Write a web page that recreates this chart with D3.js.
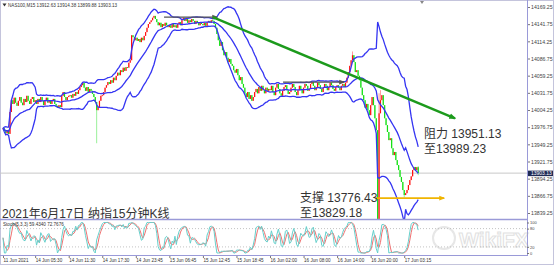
<!DOCTYPE html>
<html>
<head>
<meta charset="utf-8">
<script src="https://cdn.jsdelivr.net/npm/d3@7"></script>
<style>
body { margin: 0; background: #fff; }
svg { display: block; font-family: "Liberation Sans", Arial, sans-serif; }
</style>
</head>
<body>
<svg id="chart" width="554" height="265"></svg>
<script type="text/javascript">

// NAS100 M15 closes, one array per time-axis label (24 bars each)
var closes_11Jun = [13975, 13971, 13967, 13972, 13966, 14001, 14020, 14014, 14024, 14016, 14011, 14019, 14025, 14016, 14012, 14022, 14017, 14027, 14019, 14014, 14022, 14025, 14017];
var closes_14Jun_0530 = [14020, 14014, 14022, 14017, 14025, 14019, 14012, 14020, 14024, 14016, 14020, 14014, 14019, 14022, 14014, 14011, 14008, 14012, 14009, 14027, 14033, 14025, 14020, 14025];
var closes_14Jun_1130 = [14027, 14028, 14024, 14030, 14027, 14033, 14030, 14036, 14041, 14044, 14048, 14040, 14035, 14041, 14033, 14038, 14035, 14030, 14025, 14017, 14004, 14009, 14019, 14027];
var closes_14Jun_1730 = [14028, 14033, 14040, 14044, 14049, 14046, 14052, 14048, 14056, 14052, 14059, 14064, 14060, 14068, 14065, 14072, 14067, 14073, 14072, 14080, 14084, 14124, 14121, 14116];
var closes_14Jun_2345 = [14120, 14115, 14118, 14113, 14120, 14116, 14123, 14129, 14136, 14142, 14145, 14148, 14152, 14155, 14150, 14145, 14140, 14144, 14137, 14142, 14139, 14144, 14140, 14137];
var closes_15Jun_0645 = [14140, 14136, 14142, 14137, 14140, 14136, 14142, 14145, 14140, 14148, 14152, 14147, 14150, 14144, 14148, 14145, 14150, 14147, 14142, 14147, 14144, 14140, 14145, 14142];
var closes_15Jun_1245 = [14140, 14144, 14139, 14145, 14147, 14144, 14148, 14147, 14142, 14136, 14126, 14116, 14107, 14113, 14100, 14092, 14097, 14088, 14081, 14086, 14078, 14075, 14068, 14064];
var closes_15Jun_1845 = [14070, 14060, 14052, 14057, 14046, 14040, 14031, 14025, 14033, 14022, 14028, 14019, 14025, 14033, 14038, 14031, 14041, 14035, 14043, 14036, 14031, 14040, 14035, 14038];
var closes_16Jun_0200 = [14036, 14043, 14033, 14028, 14040, 14046, 14038, 14031, 14027, 14035, 14041, 14044, 14036, 14030, 14033, 14040, 14046, 14041, 14033, 14028, 14036, 14043, 14038, 14031];
var closes_16Jun_0800 = [14040, 14046, 14043, 14035, 14038, 14046, 14049, 14043, 14036, 14041, 14048, 14044, 14038, 14033, 14040, 14046, 14043, 14036, 14041, 14048, 14044, 14038, 14035, 14041];
var closes_16Jun_1400 = [14044, 14040, 14036, 14043, 14046, 14041, 14048, 14056, 14065, 14075, 14084, 14092, 14081, 14065, 14068, 14059, 14052, 14040, 14028, 14020, 14008, 14014, 14004, 13996];
var closes_16Jun_2000 = [14012, 14025, 14012, 13991, 13972, 13790, 13999, 14020, 14028, 14012, 13991, 13980, 13969, 13956, 13959, 13943, 13932, 13937, 13924, 13916, 13908, 13897, 13889, 13876];
var closes_17Jun_0315 = [13868, 13871, 13876, 13884, 13892, 13898, 13908, 13913, 13908, 13912.63, 13903.13];

// wicks that reach beyond the bodies: [bar, price]
var highWicks = [[250, 14098], [269, 14031], [270, 14036], [297, 13914.38]];
var lowWicks = [[67, 13951], [269, 13776.43], [287, 13864], [297, 13899.88]];

var timeLabels = ["11 Jun 2021", "14 Jun 05:30", "14 Jun 11:30", "14 Jun 17:30", "14 Jun 23:45", "15 Jun 06:45",
    "15 Jun 12:45", "15 Jun 18:45", "16 Jun 02:00", "16 Jun 08:00", "16 Jun 14:00", "16 Jun 20:00", "17 Jun 03:15"];
var timeLabelBars = [0, 23, 47, 71, 95, 119, 143, 167, 191, 215, 239, 263, 287];

var priceTicks = [14169.25, 14141.75, 14114.25, 14086.75, 14059.25, 14031.75, 14004.25, 13976.75, 13949.25, 13921.75, 13894.25, 13866.75, 13839.25];
var stochTicks = [0, 20, 80, 100];
var bidPrice = 13903.13;

// drawn objects: [bar, price] end points
var trendLine = [[150, 14153], [323.3, 13991]];
var topArrow = [[115.2, 14153], [153.1, 14153]];
var midArrow = [[200.3, 14049], [243.9, 14049]];
var supportArrow = [[266.8, 13863], [315.5, 13863]];

var headerText = "NAS100,M15  13912.63 13914.38 13899.88 13903.13";
var stochText = "Stoch(5,3,3) 59.4340 72.7676";
var titleText = "2021年6月17日 纳指15分钟K线";
var resistText = ["阻力 13951.13", "至13989.23"];
var supportText = ["支撑 13776.43", "至13829.18"];

var closes = [].concat(closes_11Jun, closes_14Jun_0530, closes_14Jun_1130, closes_14Jun_1730, closes_14Jun_2345,
    closes_15Jun_0645, closes_15Jun_1245, closes_15Jun_1845, closes_16Jun_0200, closes_16Jun_0800,
    closes_16Jun_1400, closes_16Jun_2000, closes_17Jun_0315);
var n = closes.length;
var bars = d3.range(n);

var opens = closes.map(function(c, i) { return i ? closes[i - 1] : c; });
var highs = closes.map(function(c, i) { return Math.max(c, opens[i]); });
var lows = closes.map(function(c, i) { return Math.min(c, opens[i]); });
highWicks.forEach(function(w) { highs[w[0]] = w[1]; });
lowWicks.forEach(function(w) { lows[w[0]] = w[1]; });

// bollinger bands 20, 2
var bands = bars.map(function(i) {
    var win = closes.slice(Math.max(0, i - 19), i + 1);
    var m = d3.mean(win);
    var sd = Math.sqrt(d3.mean(win, function(v) { return (v - m) * (v - m); }));
    return {i: i, mid: m, up: m + 2 * sd, lo: m - 2 * sd};
});

// stochastic 5,3,3
var num = bars.map(function(i) {
    var lo = d3.min(lows.slice(Math.max(0, i - 4), i + 1));
    return closes[i] - lo;
});
var den = bars.map(function(i) {
    var lo = d3.min(lows.slice(Math.max(0, i - 4), i + 1));
    var hi = d3.max(highs.slice(Math.max(0, i - 4), i + 1));
    return hi - lo;
});
var kLine = bars.map(function(i) {
    var a = d3.sum(num.slice(Math.max(0, i - 2), i + 1));
    var b = d3.sum(den.slice(Math.max(0, i - 2), i + 1));
    return b ? a / b * 100 : 50;
});
var dLine = bars.map(function(i) { return d3.mean(kLine.slice(Math.max(0, i - 2), i + 1)); });

var svg = d3.select("#chart");
var axisX = 527;

var x = d3.scaleLinear().domain([0, n - 1]).range([3, 3 + (n - 1) * 1.398]);
var y = d3.scaleLinear().domain([13839.25, 14169.25]).range([213, 7]);
var ys = d3.scaleLinear().domain([0, 100]).range([253, 222.5]);

var defs = svg.append("defs");
defs.append("clipPath").attr("id", "clipMain").append("rect")
    .attr("x", 0).attr("y", 1).attr("width", axisX).attr("height", 218);
defs.append("clipPath").attr("id", "clipSub").append("rect")
    .attr("x", 0).attr("y", 221).attr("width", axisX).attr("height", 34);
function marker(id, color, size) {
    defs.append("marker").attr("id", id).attr("viewBox", "0 0 10 10")
        .attr("refX", 8).attr("refY", 5).attr("markerWidth", size).attr("markerHeight", size)
        .attr("markerUnits", "userSpaceOnUse").attr("orient", "auto")
        .append("path").attr("d", "M0,1 L10,5 L0,9 Z").attr("fill", color);
}
marker("arrGray", "#555", 6);
marker("arrOrange", "#f0b400", 6);
marker("arrGreen", "#1c9a1c", 7);

svg.append("rect").attr("x", 0.5).attr("y", 0.5).attr("width", 553).attr("height", 264)
    .attr("fill", "#fff").attr("stroke", "#c4c4dc");

// bid line
svg.append("line").attr("x1", 0).attr("x2", axisX).attr("y1", y(bidPrice)).attr("y2", y(bidPrice))
    .attr("stroke", "#c8c8c8").attr("stroke-width", 1);

var main = svg.append("g").attr("clip-path", "url(#clipMain)");

main.selectAll("line.wick").data(bars).join("line").attr("class", "wick")
    .attr("x1", function(i) { return x(i); }).attr("x2", function(i) { return x(i); })
    .attr("y1", function(i) { return y(highs[i]); }).attr("y2", function(i) { return y(lows[i]); })
    .attr("stroke", function(i) { return closes[i] >= opens[i] ? "#ff9a9a" : "#9af09a"; })
    .attr("stroke-width", 1);

main.selectAll("rect.body").data(bars).join("rect").attr("class", "body")
    .attr("x", function(i) { return x(i) - 0.6; }).attr("width", 1.2)
    .attr("y", function(i) { return y(Math.max(opens[i], closes[i])); })
    .attr("height", function(i) { return Math.max(1, Math.abs(y(opens[i]) - y(closes[i]))); })
    .attr("fill", function(i) { return closes[i] >= opens[i] ? "#ff1010" : "#10e010"; });

["up", "mid", "lo"].forEach(function(k) {
    main.append("path").datum(bands)
        .attr("fill", "none").attr("stroke", "#3535f2").attr("stroke-width", 1.3)
        .attr("d", d3.line().x(function(d) { return x(d.i); }).y(function(d) { return y(d[k]); }));
});

function drawLine(pts, color, w, mk) {
    svg.append("line")
        .attr("x1", x(pts[0][0])).attr("y1", y(pts[0][1]))
        .attr("x2", x(pts[1][0])).attr("y2", y(pts[1][1]))
        .attr("stroke", color).attr("stroke-width", w)
        .attr("marker-end", "url(#" + mk + ")");
}
drawLine(topArrow, "#555", 1.3, "arrGray");
drawLine(midArrow, "#555", 1.3, "arrGray");
drawLine(trendLine, "#1c9a1c", 2.4, "arrGreen");
drawLine(supportArrow, "#f0b400", 1.8, "arrOrange");

// header
svg.append("path").attr("d", "M2.5,3.5 L6.5,3.5 L4.5,6.5 Z").attr("fill", "#333");
svg.append("text").attr("x", 8).attr("y", 7).attr("font-size", 4.6).attr("fill", "#333").text(headerText);
svg.append("path").attr("d", "M420,1 L424,1 L422,4 Z").attr("fill", "#888");

// overlay labels
var cjk = '"Liberation Sans", "Noto Sans CJK SC", sans-serif';
function label(lines, x0, y0) {
    lines.forEach(function(t, k) {
        svg.append("text").attr("x", x0).attr("y", y0 + k * 15)
            .attr("font-family", cjk).attr("font-size", 12).attr("fill", "#333").text(t);
    });
}
label(resistText, 424, 138);
label(supportText, 300, 202);
svg.append("text").attr("x", 2).attr("y", 218).attr("font-family", cjk).attr("font-size", 12)
    .attr("fill", "#333").text(titleText);

// price axis
var yAxis = svg.append("g").attr("transform", "translate(" + axisX + ",0)")
    .call(d3.axisRight(y).tickValues(priceTicks).tickSize(3).tickPadding(1).tickFormat(d3.format(".2f")));
yAxis.select(".domain").remove();
yAxis.selectAll("line").attr("stroke", "#777");
yAxis.selectAll("text").attr("font-size", 5.2).attr("fill", "#444");
svg.append("line").attr("x1", axisX + 0.5).attr("x2", axisX + 0.5).attr("y1", 0).attr("y2", 256)
    .attr("stroke", "#9a9ad8").attr("stroke-width", 1);

// bid price box
svg.append("rect").attr("x", axisX + 1).attr("y", y(bidPrice) - 2.5).attr("width", 25).attr("height", 5.5)
    .attr("fill", "#1f2b55");
svg.append("text").attr("x", axisX + 4).attr("y", y(bidPrice) + 2).attr("font-size", 5)
    .attr("fill", "#fff").text(d3.format(".2f")(bidPrice));

// sub window frame
svg.append("line").attr("x1", 0).attr("x2", axisX).attr("y1", 219.5).attr("y2", 219.5)
    .attr("stroke", "#9a9ad8").attr("stroke-width", 1.6);
svg.append("line").attr("x1", 0).attr("x2", axisX).attr("y1", 255.5).attr("y2", 255.5)
    .attr("stroke", "#9a9ad8").attr("stroke-width", 1);

[20, 80].forEach(function(v) {
    svg.append("line").attr("x1", 0).attr("x2", axisX).attr("y1", ys(v)).attr("y2", ys(v))
        .attr("stroke", "#aaa").attr("stroke-width", 0.7).attr("stroke-dasharray", "1,2");
});

var sub = svg.append("g").attr("clip-path", "url(#clipSub)");
sub.append("path").datum(dLine).attr("fill", "none").attr("stroke", "#f07070").attr("stroke-width", 1)
    .attr("d", d3.line().x(function(d, i) { return x(i); }).y(function(d) { return ys(d); }));
sub.append("path").datum(kLine).attr("fill", "none").attr("stroke", "#66d0cc").attr("stroke-width", 1)
    .attr("d", d3.line().x(function(d, i) { return x(i); }).y(function(d) { return ys(d); }));

svg.append("text").attr("x", 3).attr("y", 226).attr("font-size", 4.6).attr("fill", "#333").text(stochText);

var sAxis = svg.append("g").attr("transform", "translate(" + axisX + ",0)")
    .call(d3.axisRight(ys).tickValues(stochTicks).tickSize(2).tickPadding(1));
sAxis.select(".domain").remove();
sAxis.selectAll("line").attr("stroke", "#777");
sAxis.selectAll("text").attr("font-size", 4).attr("fill", "#444");

// time axis
var xAxis = svg.append("g").attr("transform", "translate(0,256)")
    .call(d3.axisBottom(x).tickValues(timeLabelBars).tickSize(2).tickPadding(1)
        .tickFormat(function(d, i) { return timeLabels[i]; }));
xAxis.select(".domain").remove();
xAxis.selectAll("line").attr("stroke", "#777");
xAxis.selectAll("text").attr("font-size", 4.6).attr("fill", "#333").attr("text-anchor", "start").attr("dx", 0);

// watermark
var wm = svg.append("g").attr("opacity", 0.35);
wm.append("circle").attr("cx", 444).attr("cy", 238).attr("r", 11).attr("fill", "none")
    .attr("stroke", "#bbb").attr("stroke-width", 2);
wm.append("text").attr("x", 459).attr("y", 247).attr("font-size", 21).attr("font-weight", "bold")
    .attr("fill", "none").attr("stroke", "#aaa").attr("stroke-width", 1.1).text("WikiFX");

</script>
</body>
</html>
